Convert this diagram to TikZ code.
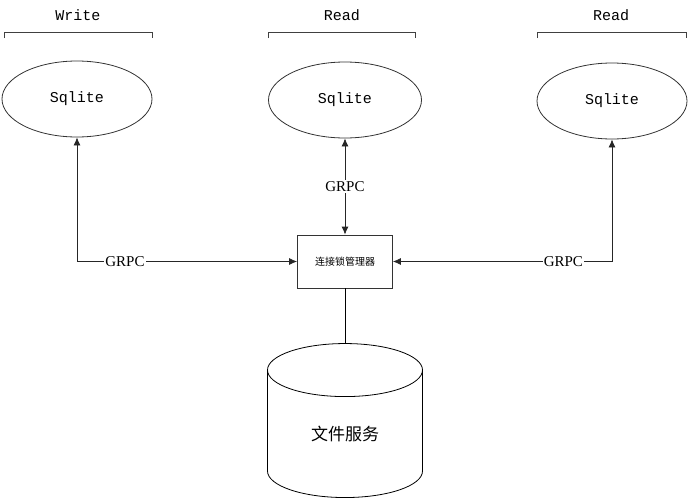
\documentclass[tikz,border=0pt]{standalone}
\usepackage{fontspec}
\setmainfont{Liberation Serif}
\newfontfamily\monofont{Liberation Mono}
\newfontfamily\cjk{Noto Sans CJK SC}
\usetikzlibrary{shapes.geometric,arrows.meta}

\begin{document}
\begin{tikzpicture}[x=1pt,y=-1pt,line width=0.8pt,
	sqlite/.style={ellipse,draw=black!80,minimum width=150pt,minimum height=76pt,inner sep=0pt,font=\monofont\fontsize{15}{15}\selectfont},
	tag/.style={font=\monofont\fontsize{15}{15}\selectfont},
	link/.style={draw=black!85,{Latex[length=8pt,width=7pt]}-{Latex[length=8pt,width=7pt]}},
	proto/.style={fill=white,inner sep=1pt,font=\fontsize{15}{15}\selectfont}]
	\useasboundingbox (0,0) rectangle (689,501);
	% labels and brackets
	\node[tag] (wtag) at (78,15) {Write};
	\node[tag] (rtag1) at (342,15) {Read};
	\node[tag] (rtag2) at (611,15) {Read};
	\draw[black!75] (4,38) -- (4,32) -- (152,32) -- (152,38);
	\draw[black!75] (268,38) -- (268,32) -- (415,32) -- (415,38);
	\draw[black!75] (537,38) -- (537,32) -- (686,32) -- (686,38);
	% databases
	\node[sqlite] (sq1) at (77,99) {Sqlite};
	\node[sqlite,minimum width=153pt] (sq2) at (345,100) {Sqlite};
	\node[sqlite] (sq3) at (612,101) {Sqlite};
	\node[draw=black!80,minimum width=95pt,minimum height=53pt,inner sep=0pt,font=\cjk\fontsize{10}{10}\selectfont] (lock) at (345,261.5) {连接锁管理器};
	\node[cylinder,shape border rotate=90,draw,aspect=0.78,minimum width=155pt,minimum height=154pt,inner sep=0pt,font=\cjk\fontsize{17}{17}\selectfont] (fs) at (345,434) {文件服务};
	% connectors
	\draw[link] (lock.north) -- (sq2.south) node[proto,midway] {GRPC};
	\draw[link] (sq1.south) |- (lock.west) node[proto,pos=0.609] {GRPC};
	\draw[link] (sq3.south) |- (lock.east) node[proto,pos=0.611] {GRPC};
	\draw (lock.south) -- (fs.north);
\end{tikzpicture}
\end{document}
